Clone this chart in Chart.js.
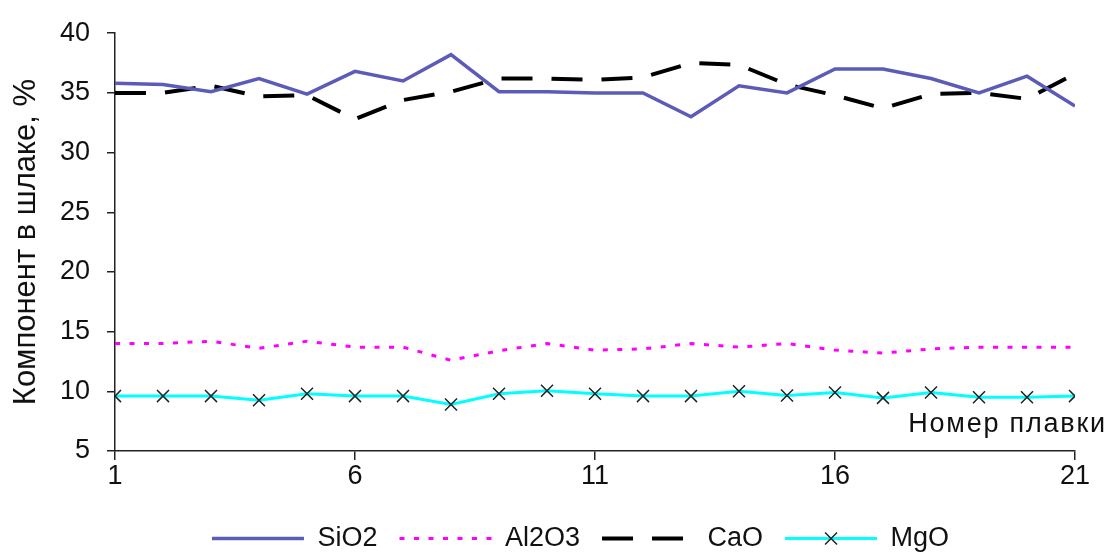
<!DOCTYPE html>
<html>
<head>
<meta charset="utf-8">
<script src="https://cdn.jsdelivr.net/npm/chart.js@4/dist/chart.umd.min.js"></script>
<style>
  html, body { margin: 0; padding: 0; background: #fff; }
</style>
</head>
<body>
<canvas id="grafico" width="1108" height="552"></canvas>
<script>
// номера плавок
const plavki = [1, 2, 3, 4, 5, 6, 7, 8, 9, 10, 11, 12, 13, 14, 15, 16, 17, 18, 19, 20, 21];
const sio2  = [35.8, 35.7, 35.1, 36.2, 34.9, 36.8, 36.0, 38.2, 35.1, 35.1, 35.0, 35.0, 33.0, 35.6, 35.0, 37.0, 37.0, 36.2, 35.0, 36.4, 33.9];
const al2o3 = [14.0, 14.0, 14.2, 13.6, 14.2, 13.7, 13.7, 12.6, 13.4, 14.0, 13.45, 13.55, 14.0, 13.7, 14.0, 13.45, 13.2, 13.55, 13.7, 13.7, 13.7];
const cao   = [35.0, 35.0, 35.6, 34.7, 34.8, 32.8, 34.4, 35.1, 36.2, 36.2, 36.1, 36.3, 37.5, 37.35, 35.7, 34.8, 33.7, 34.9, 35.0, 34.5, 36.6];
const mgo   = [9.6, 9.6, 9.6, 9.25, 9.8, 9.6, 9.6, 8.9, 9.8, 10.05, 9.8, 9.6, 9.6, 10.0, 9.65, 9.9, 9.45, 9.9, 9.5, 9.5, 9.6];
const yTicks = [5, 10, 15, 20, 25, 30, 35, 40];
const xTicks = [1, 6, 11, 16, 21];

const FONT = "'Liberation Sans', Arial, sans-serif";
const FS = 27;
const LEG_PAD = 22;
const LEGEND_DX = 43;
const LEGEND_DY = 10;

function puntos(arr) {
    return arr.map((v, i) => ({ x: plavki[i], y: v }));
}

// подпись оси X внутри поля графика, сдвиг легенды, крестик в легенде
const extras = {
    id: 'extras',
    afterLayout(chart) {
        const lg = chart.legend;
        lg.left += LEGEND_DX;
        lg.right += LEGEND_DX;
        lg.top += LEGEND_DY;
        lg.bottom += LEGEND_DY;
        lg.legendHitBoxes.forEach(h => { h.left += LEGEND_DX; });
    },
    afterDraw(chart) {
        const ctx = chart.ctx;
        ctx.save();
        ctx.font = FS + 'px ' + FONT;
        ctx.fillStyle = '#111';
        ctx.textAlign = 'right';
        ctx.textBaseline = 'alphabetic';
        ctx.letterSpacing = '1.8px';
        ctx.fillText('Номер плавки', 1107, 432);
        ctx.letterSpacing = '0px';

        const hb = chart.legend.legendHitBoxes[3];
        if (hb) {
            const cx = hb.left + chart.options.plugins.legend.labels.boxWidth / 2;
            const cy = chart.legend.top + LEG_PAD + FS / 2;
            const r = 6;
            ctx.strokeStyle = '#222';
            ctx.lineWidth = 1.5;
            ctx.beginPath();
            ctx.moveTo(cx - r, cy - r); ctx.lineTo(cx + r, cy + r);
            ctx.moveTo(cx + r, cy - r); ctx.lineTo(cx - r, cy + r);
            ctx.stroke();
        }
        ctx.restore();
    }
};

new Chart(document.getElementById('grafico'), {
    type: 'line',
    data: {
        datasets: [{
            label: 'SiO2',
            data: puntos(sio2),
            borderColor: '#5c5cb8',
            backgroundColor: '#5c5cb8',
            borderWidth: 3.5,
            pointRadius: 0,
            tension: 0
        }, {
            label: 'Al2O3',
            data: puntos(al2o3),
            borderColor: '#ff00ff',
            backgroundColor: '#ff00ff',
            borderWidth: 3,
            borderDash: [5, 9.5],
            pointRadius: 0,
            tension: 0
        }, {
            label: 'CaO',
            data: puntos(cao),
            borderColor: '#000',
            backgroundColor: '#000',
            borderWidth: 4,
            borderDash: [31, 19],
            pointRadius: 0,
            tension: 0
        }, {
            label: 'MgO',
            data: puntos(mgo),
            borderColor: '#00ffff',
            backgroundColor: '#00ffff',
            borderWidth: 3,
            pointStyle: 'crossRot',
            pointRadius: 8.5,
            pointBorderColor: '#222',
            pointBorderWidth: 1.5,
            tension: 0
        }]
    },
    options: {
        responsive: false,
        animation: false,
        events: [],
        layout: { padding: { top: 32, right: 33, left: 0, bottom: 0 } },
        plugins: {
            tooltip: { enabled: false },
            legend: {
                position: 'bottom',
                labels: {
                    usePointStyle: true,
                    pointStyleWidth: 92,
                    boxWidth: 92,
                    padding: LEG_PAD,
                    color: '#111',
                    font: { family: FONT, size: FS },
                    generateLabels(chart) {
                        const items = Chart.defaults.plugins.legend.labels.generateLabels(chart);
                        items.forEach((it, i) => {
                            const ds = chart.data.datasets[i];
                            it.pointStyle = 'line';
                            it.strokeStyle = ds.borderColor;
                            it.lineWidth = ds.borderWidth;
                            it.lineDash = ds.borderDash || [];
                        });
                        return items;
                    }
                }
            }
        },
        scales: {
            x: {
                type: 'linear',
                min: 1,
                max: 21,
                afterBuildTicks(scale) { scale.ticks = xTicks.map(v => ({ value: v })); },
                afterFit(scale) { scale.height = 42; },
                ticks: { color: '#111', padding: 0, font: { family: FONT, size: FS }, maxRotation: 0 },
                grid: { drawOnChartArea: false, drawTicks: true, tickLength: 9, color: '#222', lineWidth: 1.5 },
                border: { display: true, color: '#222', width: 1.5 }
            },
            y: {
                min: 5,
                max: 40,
                afterBuildTicks(scale) { scale.ticks = yTicks.map(v => ({ value: v })); },
                afterFit(scale) { scale.width = 115; },
                ticks: { color: '#111', padding: 17, font: { family: FONT, size: FS } },
                grid: { drawOnChartArea: false, drawTicks: true, tickLength: 8, color: '#222', lineWidth: 1.5 },
                border: { display: true, color: '#222', width: 1.5 },
                title: {
                    display: true,
                    text: 'Компонент в шлаке, %',
                    color: '#111',
                    padding: { top: 8, bottom: 0 },
                    font: { family: FONT, size: 31 }
                }
            }
        }
    },
    plugins: [extras]
});
</script>
</body>
</html>
